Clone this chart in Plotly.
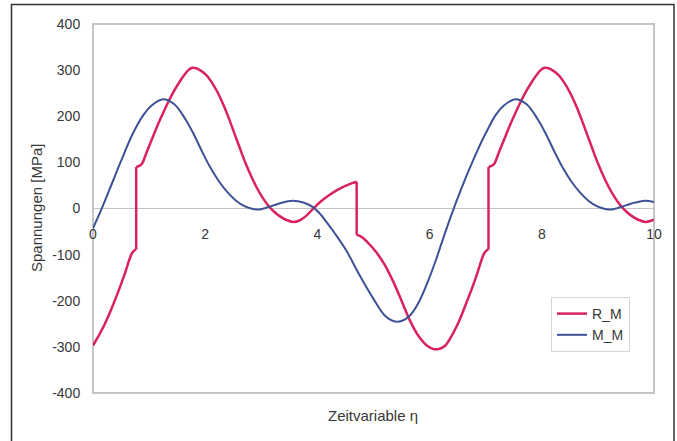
import plotly.graph_objects as go

# Zeitvariable eta und Spannungen [MPa]; doppelte eta-Werte markieren Sprünge
eta_R = [0.0, 0.1, 0.2, 0.3, 0.4, 0.5, 0.59, 0.65, 0.7, 0.77,
         0.77, 0.86, 0.95, 1.05, 1.15, 1.25, 1.35, 1.45, 1.55, 1.63, 1.7, 1.77, 1.84,
         1.92, 2.02, 2.12, 2.22, 2.32, 2.42, 2.52, 2.62, 2.72, 2.82, 2.92, 3.02, 3.12,
         3.22, 3.32, 3.45, 3.57, 3.68, 3.8, 3.92, 4.05, 4.2, 4.35, 4.5, 4.62, 4.7,
         4.7, 4.78, 4.9, 5.05, 5.2, 5.35, 5.5, 5.65, 5.8, 5.95, 6.08, 6.18, 6.28,
         6.38, 6.48, 6.58, 6.68, 6.78, 6.87, 6.93, 6.98, 7.05,
         7.05, 7.14, 7.23, 7.33, 7.43, 7.53, 7.63, 7.73, 7.83, 7.91, 7.98, 8.05, 8.12,
         8.2, 8.3, 8.4, 8.5, 8.6, 8.7, 8.8, 8.9, 9.0, 9.1, 9.2, 9.3, 9.4,
         9.5, 9.6, 9.73, 9.85, 9.96, 10.0]
R_M = [-297, -276, -253, -226, -196, -164, -133, -110, -96, -88,
       90, 95, 120, 150, 180, 207, 233, 256, 276, 290, 300, 305, 304,
       299, 289, 273, 252, 226, 196, 163, 130, 98, 70, 45, 24, 7,
       -6, -16, -25, -29, -26, -16, -1, 14, 28, 40, 49, 55, 58,
       -57, -61, -74, -95, -122, -158, -200, -243, -276, -297, -305, -304, -297,
       -279, -256, -228, -197, -165, -133, -110, -96, -88,
       90, 95, 120, 150, 180, 207, 233, 256, 276, 290, 300, 305, 304,
       299, 289, 273, 252, 226, 196, 163, 130, 98, 70, 45, 24, 7,
       -6, -16, -25, -29, -26, -24]

eta_M = [0.0, 0.17, 0.35, 0.5, 0.7, 0.9, 1.05, 1.25, 1.45, 1.65, 1.8, 1.95, 2.1,
         2.25, 2.4, 2.55, 2.7, 2.85, 2.97, 3.1, 3.32, 3.56, 3.75, 3.92, 4.05, 4.16,
         4.3, 4.51, 4.75, 5.0, 5.2, 5.35, 5.5, 5.65, 5.8, 5.95, 6.1, 6.25,
         6.4, 6.55, 6.7, 6.85, 7.0, 7.18, 7.33, 7.53, 7.73, 7.93, 8.08, 8.23, 8.38,
         8.53, 8.68, 8.83, 8.98, 9.13, 9.25, 9.38, 9.6, 9.84, 10.0]
M_M = [-43, 4, 58, 103, 160, 203, 224, 237, 226, 193, 160, 122, 87,
       58, 35, 17, 5, -1, -2, 2, 11, 17, 13, 3, -12, -29,
       -52, -90, -144, -196, -232, -244, -244, -232, -205, -164, -116, -62,
       -10, 38, 83, 125, 163, 203, 224, 237, 226, 193, 160, 122, 87,
       58, 35, 17, 5, -1, -2, 2, 11, 17, 14]

x_ticks = [0, 2, 4, 6, 8, 10]
y_ticks = [-400, -300, -200, -100, 0, 100, 200, 300, 400]

RED = "#d9235c"
BLUE = "#3d5296"
TEXT = "#383838"
FONT = "Liberation Sans, Arial, sans-serif"

fig = go.Figure()


def add_series(xs, ys, name, color, width):
    """Smooth pieces as splines, vertical jumps (repeated x) as straight lines."""
    pieces, jumps = [], []
    start = 0
    for i in range(1, len(xs)):
        if xs[i] == xs[i - 1]:
            pieces.append((xs[start:i], ys[start:i]))
            jumps.append(([xs[i - 1], xs[i]], [ys[i - 1], ys[i]]))
            start = i
    pieces.append((xs[start:], ys[start:]))
    first = True
    for px, py in pieces:
        fig.add_trace(go.Scatter(
            x=px, y=py, mode="lines", name=name, legendgroup=name,
            showlegend=first,
            line=dict(color=color, width=width, shape="spline", smoothing=1.0)))
        first = False
    for jx, jy in jumps:
        fig.add_trace(go.Scatter(
            x=jx, y=jy, mode="lines", name=name, legendgroup=name,
            showlegend=False, line=dict(color=color, width=width)))


add_series(eta_R, R_M, "R_M", RED, 2.5)
add_series(eta_M, M_M, "M_M", BLUE, 2)

W, H = 677, 441
ML, MR, MT, MB = 93, 23, 24, 48
PW, PH = W - ML - MR, H - MT - MB


def px_to_paper(x, y):
    return (x - ML) / PW, (H - MB - y) / PH


fx0, fy0 = px_to_paper(11.5, 4.5)
fx1, fy1 = px_to_paper(674, 470)

fig.update_layout(
    width=W, height=H,
    margin=dict(l=ML, r=MR, t=MT, b=MB, pad=0),
    paper_bgcolor="white", plot_bgcolor="white",
    font=dict(family=FONT, size=14, color=TEXT),
    showlegend=True,
    legend=dict(
        x=(551 - ML) / PW, y=(H - MB - 297) / PH, xanchor="left", yanchor="top",
        bgcolor="white", bordercolor="#d6d6d6", borderwidth=1,
        font=dict(size=14, color=TEXT), tracegroupgap=0,
    ),
    xaxis=dict(
        range=[0, 10], tickvals=x_ticks, ticktext=[str(v) for v in x_ticks],
        showgrid=False, zeroline=False, showline=False,
        anchor="free", position=0.5,
        ticks="outside", ticklen=13, tickcolor="rgba(0,0,0,0)",
        tickfont=dict(size=14, color=TEXT),
    ),
    yaxis=dict(
        range=[-400, 400], tickvals=y_ticks, ticktext=[str(v) for v in y_ticks],
        showgrid=False, zeroline=True, zerolinecolor="#c4c4c4", zerolinewidth=1,
        showline=False,
        ticks="outside", ticklen=9, tickcolor="rgba(0,0,0,0)",
        tickfont=dict(size=14, color=TEXT),
    ),
    shapes=[
        dict(type="rect", xref="paper", yref="paper", x0=0, y0=0, x1=1, y1=1,
             line=dict(color="#c6c6c6", width=2), layer="below"),
        dict(type="rect", xref="paper", yref="paper", x0=fx0, y0=fy1, x1=fx1, y1=fy0,
             line=dict(color="#333333", width=1.5), layer="below"),
    ],
    annotations=[
        dict(text="Spannungen [MPa]", textangle=-90, xref="paper", yref="paper",
             x=px_to_paper(36, 0)[0], y=px_to_paper(0, 208)[1],
             xanchor="center", yanchor="middle", showarrow=False,
             font=dict(size=15, color=TEXT)),
        dict(text="Zeitvariable η", xref="paper", yref="paper",
             x=px_to_paper(373, 0)[0], y=px_to_paper(0, 415)[1],
             xanchor="center", yanchor="middle", showarrow=False,
             font=dict(size=15, color=TEXT)),
    ],
)

fig.write_html("out.html")
